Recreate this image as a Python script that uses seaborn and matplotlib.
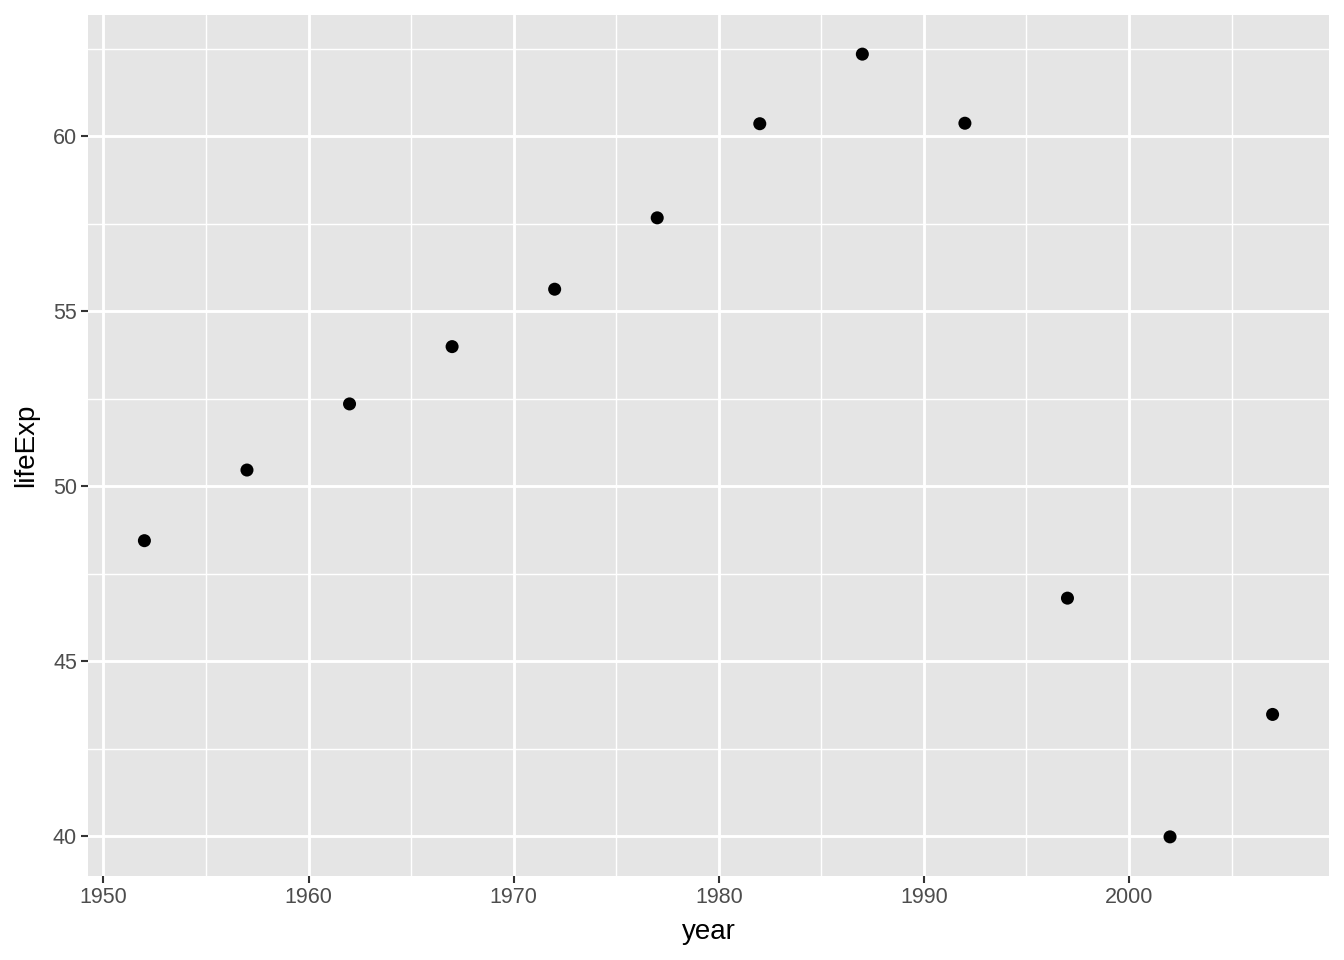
import matplotlib
matplotlib.use("Agg")
import matplotlib.pyplot as plt
import seaborn as sns
import pandas as pd
from matplotlib.ticker import MultipleLocator

years = [1952, 1957, 1962, 1967, 1972, 1977, 1982, 1987, 1992, 1997, 2002, 2007]
life_exp = [48.451, 50.469, 52.358, 53.995, 55.635, 57.674, 60.363, 62.351,
            60.377, 46.809, 39.989, 43.487]

df = pd.DataFrame({"year": years, "lifeExp": life_exp})

sns.set_theme(style="darkgrid", rc={
    "axes.facecolor": "#E5E5E5",
    "grid.color": "white",
})
plt.rcParams["font.family"] = ["Liberation Sans", "DejaVu Sans"]

fig = plt.figure(figsize=(13.44, 9.6), dpi=100)
ax = fig.add_axes([88 / 1344, 1 - 876 / 960, (1329 - 88) / 1344, (876 - 15) / 960])

sns.scatterplot(data=df, x="year", y="lifeExp", ax=ax, color="black",
                s=88, edgecolor="none", zorder=3)

ax.set_xlim(1949.25, 2009.75)
ax.set_ylim(38.871, 63.469)
ax.xaxis.set_major_locator(MultipleLocator(10))
ax.xaxis.set_minor_locator(MultipleLocator(5))
ax.yaxis.set_major_locator(MultipleLocator(5))
ax.yaxis.set_minor_locator(MultipleLocator(2.5))
ax.grid(which="major", color="white", linewidth=2.1)
ax.grid(which="minor", color="white", linewidth=1.0)
ax.set_axisbelow(True)
for s in ax.spines.values():
    s.set_visible(False)

ax.tick_params(which="major", length=5, width=1.5, color="#333333",
               labelsize=15.5, labelcolor="#4D4D4D", pad=3, left=True, bottom=True)
ax.tick_params(which="minor", length=0)
ax.set_xlabel("year", fontsize=20, color="black", labelpad=8)
ax.set_ylabel("lifeExp", fontsize=20, color="black", labelpad=10)

fig.savefig("out.png", dpi=100)
